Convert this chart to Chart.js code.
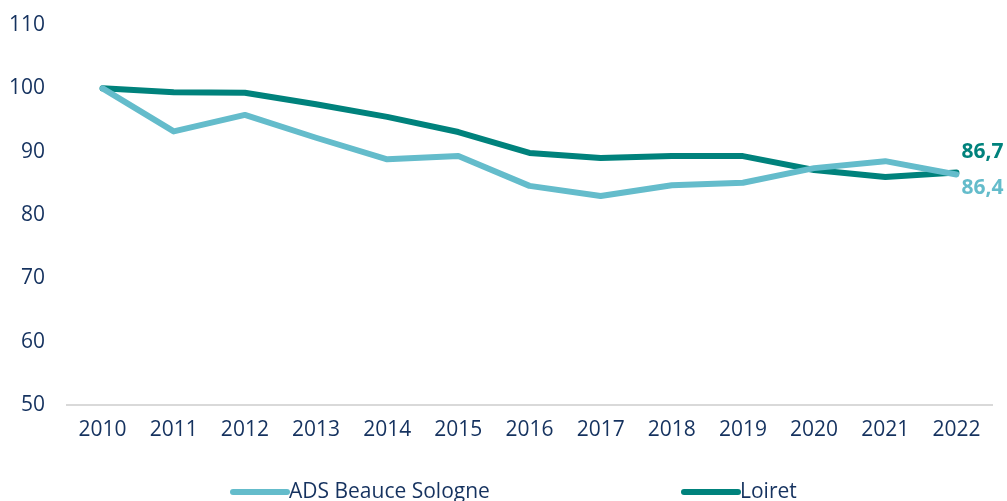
<!DOCTYPE html>
<html>
<head>
<meta charset="utf-8">
<script src="https://cdn.jsdelivr.net/npm/chart.js@4"></script>
<style>
  html, body { margin: 0; padding: 0; background: #fff; }
  #wrap { width: 1007px; height: 501px; }
</style>
</head>
<body>
<div id="wrap"><canvas id="myChart"></canvas></div>
<script>
const years = ['2010', '2011', '2012', '2013', '2014', '2015', '2016', '2017', '2018', '2019', '2020', '2021', '2022'];
const adsBeauceSologne = [100, 93.2, 95.8, 92.2, 88.8, 89.3, 84.6, 83.0, 84.7, 85.1, 87.4, 88.5, 86.4];
const loiret = [100, 99.4, 99.3, 97.5, 95.5, 93.1, 89.8, 89.0, 89.3, 89.3, 87.1, 86.0, 86.7];
const seriesNames = ['ADS Beauce Sologne', 'Loiret'];
const lastLabels = ['86,4', '86,7'];

const lightBlue = '#64bccb';
const teal = '#00827c';
const textColor = '#15325f';
const fontFamily = "'Open Sans', sans-serif";

// étiquettes de fin de série + légende dessinée à la main
const extras = {
    id: 'extras',
    afterDatasetsDraw(chart) {
        const ctx = chart.ctx;
        ctx.save();
        ctx.font = "bold 21px " + fontFamily;
        ctx.textAlign = 'left';
        ctx.textBaseline = 'middle';
        const metaAds = chart.getDatasetMeta(0);
        const metaLoi = chart.getDatasetMeta(1);
        const pA = metaAds.data[metaAds.data.length - 1];
        const pL = metaLoi.data[metaLoi.data.length - 1];
        ctx.fillStyle = teal;
        ctx.fillText(lastLabels[1], pL.x + 5, pL.y - 21);
        ctx.fillStyle = lightBlue;
        ctx.fillText(lastLabels[0], pA.x + 5, pA.y + 14);

        // légende
        ctx.font = "21px " + fontFamily;
        ctx.textBaseline = 'middle';
        const items = [
            { x: 233, color: lightBlue, text: seriesNames[0] },
            { x: 684, color: teal, text: seriesNames[1] }
        ];
        const ly = 492;
        items.forEach(it => {
            ctx.strokeStyle = it.color;
            ctx.lineWidth = 6;
            ctx.lineCap = 'round';
            ctx.beginPath();
            ctx.moveTo(it.x, ly);
            ctx.lineTo(it.x + 54, ly);
            ctx.stroke();
            ctx.fillStyle = textColor;
            ctx.fillText(it.text, it.x + 56, ly);
        });
        ctx.restore();
    }
};

const ctx = document.getElementById('myChart').getContext('2d');
new Chart(ctx, {
    type: 'line',
    data: {
        labels: years,
        datasets: [
            {
                label: seriesNames[0],
                data: adsBeauceSologne,
                borderColor: lightBlue,
                backgroundColor: lightBlue,
                borderWidth: 6,
                pointRadius: 0,
                tension: 0,
                borderJoinStyle: 'round',
                borderCapStyle: 'round'
            },
            {
                label: seriesNames[1],
                data: loiret,
                borderColor: teal,
                backgroundColor: teal,
                borderWidth: 6,
                pointRadius: 0,
                tension: 0,
                borderJoinStyle: 'round',
                borderCapStyle: 'round'
            }
        ]
    },
    options: {
        responsive: true,
        maintainAspectRatio: false,
        animation: false,
        layout: { padding: { left: 0, right: 15, top: 25, bottom: 0 } },
        plugins: {
            legend: { display: false },
            tooltip: { enabled: false }
        },
        scales: {
            x: {
                offset: true,
                grid: { display: false, drawTicks: false },
                border: { display: true, color: '#d9d9d9', width: 2 },
                ticks: { color: textColor, font: { family: fontFamily, size: 21 }, padding: 12, maxRotation: 0 },
                afterFit: scale => { scale.height = 96; }
            },
            y: {
                min: 50,
                max: 110,
                grid: { display: false, drawTicks: false },
                border: { display: false },
                ticks: { stepSize: 10, color: textColor, font: { family: fontFamily, size: 21 }, padding: 22 },
                afterFit: scale => { scale.width = 67; scale.paddingTop = 0; scale.paddingBottom = 0; }
            }
        }
    },
    plugins: [extras]
});
</script>
</body>
</html>
